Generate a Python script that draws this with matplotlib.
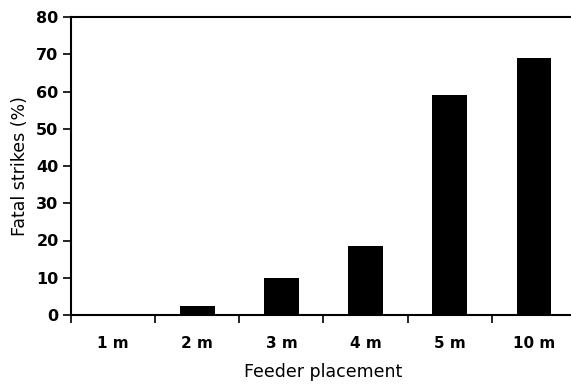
import matplotlib
matplotlib.use("Agg")
import matplotlib.pyplot as plt
import numpy as np

categories = ["1 m", "2 m", "3 m", "4 m", "5 m", "10 m"]
fatal_pct = [0, 2.4, 10, 18.5, 59, 69]

plt.rcParams['font.family'] = ['DejaVu Sans']

fig = plt.figure(figsize=(5.71, 3.85), dpi=100)
ax = fig.add_axes([71/571, 1-315/385, (576-71)/571, (315-17)/385])

x = np.arange(len(categories))
ax.bar(x, fatal_pct, width=0.41, color='black')
ax.set_xlim(-0.5, len(categories) - 0.5)
ax.set_ylim(0, 80)
ax.set_yticks(range(0, 81, 10))
ax.set_xticks(x)
ax.set_xticklabels(categories, fontsize=11, fontweight='bold')
ax.set_xticks(np.arange(-0.5, len(categories), 1), minor=True)
ax.tick_params(axis='x', which='major', length=0, pad=15)
ax.tick_params(axis='x', which='minor', length=6, width=1.2, direction='out')
ax.tick_params(axis='y', length=6, width=1.2, direction='out', labelsize=11.5, pad=3)
for lab in ax.get_yticklabels():
    lab.set_fontweight('bold')
ax.spines['right'].set_visible(False)
for s in ['left', 'bottom', 'top']:
    ax.spines[s].set_linewidth(1.5)

ax.set_ylabel("Fatal strikes (%)", fontsize=12.5, labelpad=5)
ax.set_xlabel("Feeder placement", fontsize=12.5, labelpad=9)

fig.savefig("out.png", dpi=100)
